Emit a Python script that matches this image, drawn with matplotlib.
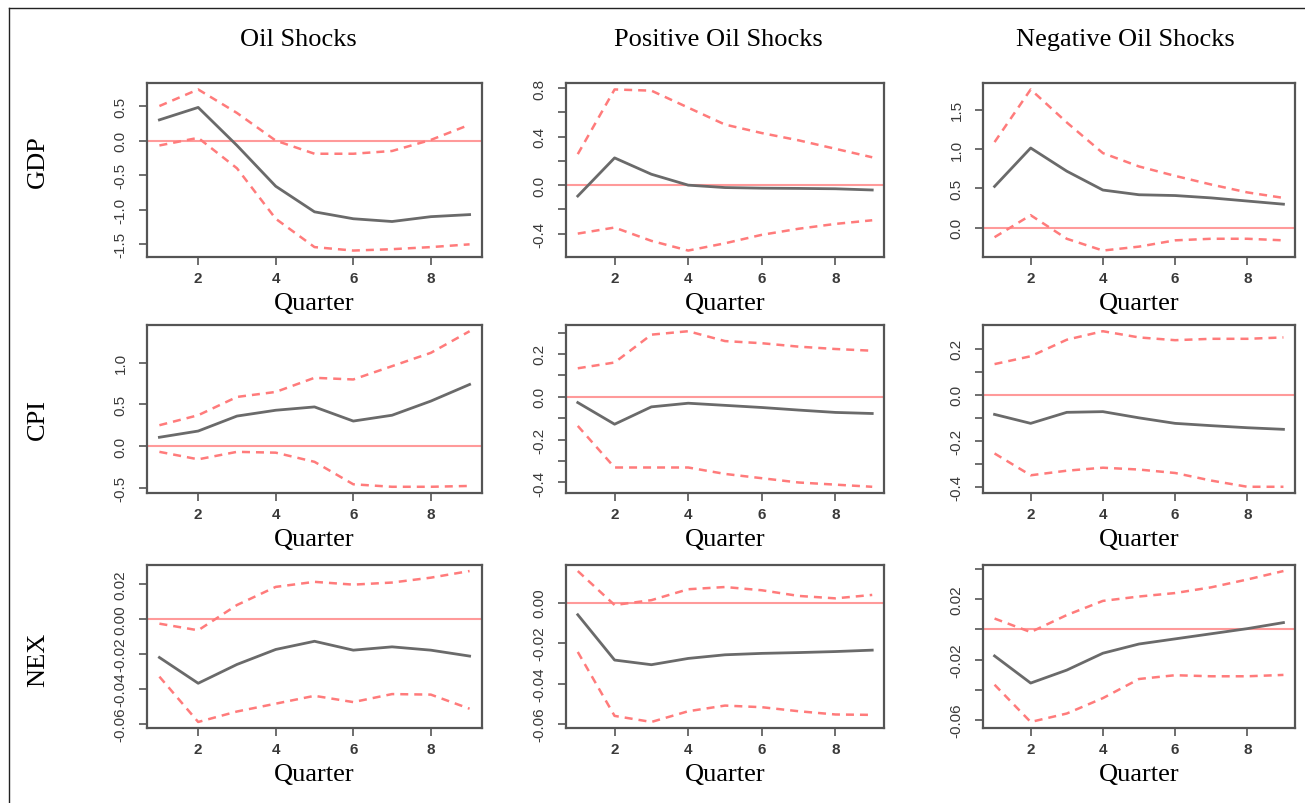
"""Impulse responses of GDP, CPI and NEX to oil shocks (3x3 grid)."""
import numpy as np
import matplotlib.pyplot as plt
from matplotlib.lines import Line2D
from matplotlib.ticker import FixedLocator, FixedFormatter


# Data
quarters = [1, 2, 3, 4, 5, 6, 7, 8, 9]
col_titles = ["Oil Shocks", "Positive Oil Shocks", "Negative Oil Shocks"]
row_labels = ["GDP", "CPI", "NEX"]

# GDP
gdp_oil_mid = [0.30, 0.48, -0.07, -0.66, -1.03, -1.13, -1.17, -1.10, -1.07]
gdp_oil_up = [0.50, 0.74, 0.40, 0.00, -0.19, -0.19, -0.15, 0.01, 0.23]
gdp_oil_lo = [-0.07, 0.04, -0.40, -1.13, -1.54, -1.59, -1.57, -1.54, -1.50]

gdp_pos_mid = [-0.09, 0.225, 0.09, 0.00, -0.02, -0.025, -0.027, -0.03, -0.04]
gdp_pos_up = [0.256, 0.79, 0.78, 0.64, 0.50, 0.43, 0.37, 0.30, 0.23]
gdp_pos_lo = [-0.40, -0.35, -0.46, -0.54, -0.48, -0.41, -0.36, -0.32, -0.29]

gdp_neg_mid = [0.526, 1.015, 0.72, 0.48, 0.42, 0.41, 0.38, 0.34, 0.30]
gdp_neg_up = [1.09, 1.76, 1.34, 0.95, 0.78, 0.66, 0.55, 0.45, 0.38]
gdp_neg_lo = [-0.12, 0.16, -0.14, -0.29, -0.24, -0.16, -0.14, -0.14, -0.16]

# CPI
cpi_oil_mid = [0.105, 0.18, 0.36, 0.43, 0.47, 0.30, 0.37, 0.54, 0.74]
cpi_oil_up = [0.25, 0.37, 0.59, 0.65, 0.82, 0.80, 0.96, 1.12, 1.38]
cpi_oil_lo = [-0.07, -0.16, -0.07, -0.08, -0.19, -0.46, -0.49, -0.49, -0.48]

cpi_pos_mid = [-0.027, -0.128, -0.047, -0.03, -0.04, -0.05, -0.062, -0.073, -0.078]
cpi_pos_up = [0.133, 0.16, 0.29, 0.306, 0.26, 0.25, 0.234, 0.223, 0.215]
cpi_pos_lo = [-0.136, -0.33, -0.33, -0.33, -0.36, -0.38, -0.40, -0.41, -0.42]

cpi_neg_mid = [-0.085, -0.124, -0.076, -0.073, -0.10, -0.124, -0.134, -0.143, -0.15]
cpi_neg_up = [0.134, 0.168, 0.24, 0.277, 0.25, 0.238, 0.244, 0.244, 0.25]
cpi_neg_lo = [-0.255, -0.35, -0.33, -0.317, -0.325, -0.34, -0.373, -0.40, -0.40]

# NEX
nex_oil_mid = [-0.022, -0.0368, -0.026, -0.0174, -0.0127, -0.0178, -0.0159, -0.0178, -0.0212]
nex_oil_up = [-0.0026, -0.0064, 0.0081, 0.0185, 0.0214, 0.0198, 0.021, 0.0238, 0.0276]
nex_oil_lo = [-0.033, -0.059, -0.053, -0.0485, -0.044, -0.0476, -0.043, -0.0433, -0.0514]

nex_pos_mid = [-0.006, -0.0284, -0.0307, -0.0276, -0.0258, -0.0251, -0.0247, -0.0242, -0.0235]
nex_pos_up = [0.0156, -0.0012, 0.0012, 0.0066, 0.0077, 0.0061, 0.0033, 0.0021, 0.0038]
nex_pos_lo = [-0.0244, -0.056, -0.059, -0.0537, -0.0509, -0.0517, -0.0537, -0.0553, -0.0555]

nex_neg_mid = [-0.0176, -0.0356, -0.027, -0.0158, -0.0097, -0.0063, -0.0029, 0.0005, 0.0045]
nex_neg_up = [0.0072, -0.0018, 0.0095, 0.0189, 0.0218, 0.0241, 0.0279, 0.0331, 0.0387]
nex_neg_lo = [-0.0367, -0.0614, -0.0558, -0.0456, -0.0329, -0.0304, -0.0311, -0.0311, -0.0302]

x_ticks = [2, 4, 6, 8]

# y ticks per panel, and which of them carry a label (R drops overlapping ones)
y_ticks = [
    [[-1.5, -1.0, -0.5, 0.0, 0.5],
     [-0.4, -0.2, 0.0, 0.2, 0.4, 0.6, 0.8],
     [0.0, 0.5, 1.0, 1.5]],
    [[-0.5, 0.0, 0.5, 1.0],
     [-0.4, -0.3, -0.2, -0.1, 0.0, 0.1, 0.2, 0.3],
     [-0.4, -0.3, -0.2, -0.1, 0.0, 0.1, 0.2]],
    [[-0.06, -0.04, -0.02, 0.00, 0.02],
     [-0.06, -0.04, -0.02, 0.00],
     [-0.06, -0.04, -0.02, 0.00, 0.02, 0.04]],
]
y_labels = [
    [["-1.5", "-1.0", "-0.5", "0.0", "0.5"],
     ["-0.4", "", "0.0", "", "0.4", "", "0.8"],
     ["0.0", "0.5", "1.0", "1.5"]],
    [["-0.5", "0.0", "0.5", "1.0"],
     ["-0.4", "", "-0.2", "", "0.0", "", "0.2", ""],
     ["-0.4", "", "-0.2", "", "0.0", "", "0.2"]],
    [["-0.06", "-0.04", "-0.02", "0.00", "0.02"],
     ["-0.06", "-0.04", "-0.02", "0.00"],
     ["-0.06", "", "-0.02", "", "0.02", ""]],
]

panels = [
    [(gdp_oil_mid, gdp_oil_up, gdp_oil_lo),
     (gdp_pos_mid, gdp_pos_up, gdp_pos_lo),
     (gdp_neg_mid, gdp_neg_up, gdp_neg_lo)],
    [(cpi_oil_mid, cpi_oil_up, cpi_oil_lo),
     (cpi_pos_mid, cpi_pos_up, cpi_pos_lo),
     (cpi_neg_mid, cpi_neg_up, cpi_neg_lo)],
    [(nex_oil_mid, nex_oil_up, nex_oil_lo),
     (nex_pos_mid, nex_pos_up, nex_pos_lo),
     (nex_neg_mid, nex_neg_up, nex_neg_lo)],
]

# Layout (pixels in a 1305x804 canvas)
W, H = 1305, 804
col_lr = [(147, 482), (566, 884), (983, 1295)]
row_tb = [(84, 258), (326, 494), (566, 729)]
title_x = [298, 718, 1125]
row_label_y = [162, 420, 660]

SERIF = ["Liberation Serif", "DejaVu Serif"]
SANS = ["Liberation Sans", "DejaVu Sans"]
AX_GREY = "#555555"
MID_GREY = "#6a6a6a"
BAND_RED = "#ff7b7b"
ZERO_RED = "#ff9a9a"


def r_limits(values, frac=0.04):
    """R-style axis range: data range extended by 4% on each side."""
    lo, hi = min(values), max(values)
    pad = (hi - lo) * frac
    return lo - pad, hi + pad


fig = plt.figure(figsize=(W / 100, H / 100), dpi=100)

for i, (top, bottom) in enumerate(row_tb):
    for j, (left, right) in enumerate(col_lr):
        ax = fig.add_axes([left / W, 1 - bottom / H, (right - left) / W, (bottom - top) / H])
        mid, up, lo = panels[i][j]

        ax.axhline(0, color=ZERO_RED, lw=1.5, zorder=1)
        ax.plot(quarters, up, color=BAND_RED, lw=1.8, dashes=(3.2, 2.4), zorder=2)
        ax.plot(quarters, lo, color=BAND_RED, lw=1.8, dashes=(3.2, 2.4), zorder=2)
        ax.plot(quarters, mid, color=MID_GREY, lw=2.0, zorder=3)

        ax.set_xlim(r_limits(quarters))
        ax.set_ylim(r_limits(list(mid) + list(up) + list(lo)))

        ax.xaxis.set_major_locator(FixedLocator(x_ticks))
        ax.set_xticklabels([str(t) for t in x_ticks])
        ax.yaxis.set_major_locator(FixedLocator(y_ticks[i][j]))
        ax.yaxis.set_major_formatter(FixedFormatter(y_labels[i][j]))

        ax.tick_params(axis="both", direction="out", length=6, width=1.2,
                       color=AX_GREY, labelcolor="#3a3a3a", labelsize=11)
        ax.tick_params(axis="x", pad=4)
        ax.tick_params(axis="y", pad=8, labelrotation=90)
        for lab in ax.get_yticklabels():
            lab.set_va("center")
            lab.set_family(SANS)
        for lab in ax.get_xticklabels():
            lab.set_family(SANS)
            lab.set_fontweight("bold")

        for sp in ax.spines.values():
            sp.set_color(AX_GREY)
            sp.set_linewidth(1.6)

        fig.text(((left + right) / 2) / W, 1 - (bottom + 46) / H, "Quarter",
                 ha="center", va="center", fontsize=19, family=SERIF)

for j, title in enumerate(col_titles):
    fig.text(title_x[j] / W, 1 - 40 / H, title, ha="center", va="center",
             fontsize=19, family=SERIF)

for i, lab in enumerate(row_labels):
    fig.text(38 / W, 1 - row_label_y[i] / H, lab, ha="center", va="center",
             rotation=90, fontsize=19, family=SERIF)

# thin frame around the figure (top and left edges visible)
fig.add_artist(Line2D([9 / W, 1.0], [1 - 9 / H, 1 - 9 / H], color="#222222", lw=1.0))
fig.add_artist(Line2D([9 / W, 9 / W], [0.0, 1 - 9 / H], color="#222222", lw=1.0))

fig.savefig("out.png", dpi=100)
